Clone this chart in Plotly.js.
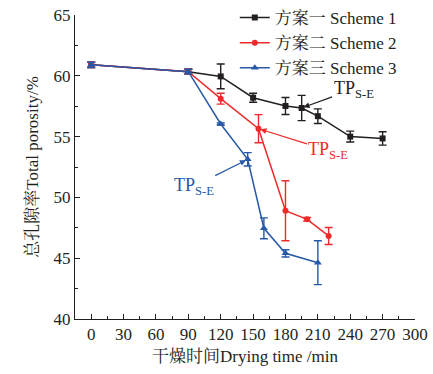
<!DOCTYPE html>
<html>
<head>
<meta charset="utf-8">
<script src="https://cdn.plot.ly/plotly-3.0.1.min.js"></script>
<style>html,body{margin:0;padding:0;background:#fff;}#chart{width:433px;height:374px;}</style>
</head>
<body>
<div id="chart"></div>
<script>
// Scheme 1 (black squares)
const s1x = [0, 90, 120, 150, 180, 195, 210, 240, 270];
const s1y = [60.9, 60.34, 59.95, 58.2, 57.52, 57.35, 56.68, 55.0, 54.85];
const s1e = [0.22, 0.2, 1.02, 0.37, 0.7, 1.04, 0.6, 0.45, 0.55];
// Scheme 2 (red circles)
const s2x = [0, 90, 120, 155, 180, 200, 220];
const s2y = [60.9, 60.34, 58.12, 55.65, 48.9, 48.2, 46.83];
const s2e = [0.22, 0.2, 0.45, 1.16, 2.47, 0.15, 0.7];
// Scheme 3 (blue triangles)
const s3x = [0, 90, 120, 145, 160, 180, 210];
const s3y = [60.9, 60.34, 56.04, 53.13, 47.46, 45.4, 44.63];
const s3e = [0.22, 0.2, 0.08, 0.55, 0.86, 0.3, 1.8];
const names = ["方案一 Scheme 1", "方案二 Scheme 2", "方案三 Scheme 3"];
const xTicks = [0, 30, 60, 90, 120, 150, 180, 210, 240, 270, 300];
const yTicks = [40, 45, 50, 55, 60, 65];
const tpLabel = "TP<sub>S-E</sub>";

const serif = "Liberation Serif, Noto Serif CJK SC, Noto Sans CJK SC, serif";
const cBlack = "#231f20", cRed = "#ee2b2b", cBlue = "#2759a8";

function tr(x, y, e, name, color, symbol, size) {
  return {
    x: x, y: y, name: name, type: "scatter", mode: "lines+markers",
    line: {color: color, width: 1.5},
    marker: {color: color, symbol: symbol, size: size},
    error_y: {type: "data", array: e, visible: true, color: color, thickness: 1.4, width: 4}
  };
}
const data = [
  tr(s1x, s1y, s1e, names[0], cBlack, "square", 6),
  tr(s2x, s2y, s2e, names[1], cRed, "circle", 6),
  tr(s3x, s3y, s3e, names[2], cBlue, "triangle-up", 7)
];

function ann(x, y, color, ax, ay) {
  return {x: x, y: y, xref: "x", yref: "y", text: tpLabel, showarrow: true,
    arrowhead: 2, arrowsize: 1, arrowwidth: 1.2, arrowcolor: color,
    ax: ax, ay: ay, standoff: 2, font: {family: serif, size: 18, color: color}};
}

const H = 374, T = 15, B = 55;
const layout = {
  width: 433, height: H,
  margin: {l: 75, r: 18, t: 0, b: B},
  paper_bgcolor: "#fff", plot_bgcolor: "#fff",
  font: {family: serif, size: 17, color: "#231f20"},
  showlegend: true,
  legend: {x: 0.47, xanchor: "left", y: 1.0, yanchor: "top",
    bgcolor: "rgba(0,0,0,0)", itemwidth: 30,
    font: {family: serif, size: 17, color: "#231f20"}, tracegroupgap: 0},
  xaxis: {
    range: [-15, 300], tickvals: xTicks,
    ticks: "inside", ticklen: 5, tickwidth: 1, tickcolor: "#231f20",
    minor: {dtick: 15, ticks: "inside", ticklen: 3, tickcolor: "#231f20"},
    showline: true, linecolor: "#231f20", linewidth: 1, showgrid: false, zeroline: false,
    title: {text: "干燥时间Drying time /min", font: {family: serif, size: 17}, standoff: 6},
    tickfont: {family: serif, size: 17}
  },
  yaxis: {
    range: [40, 65], tickvals: yTicks,
    domain: [0, (H - B - T) / (H - B)],
    ticks: "inside", ticklen: 5, tickwidth: 1, tickcolor: "#231f20",
    minor: {dtick: 2.5, ticks: "inside", ticklen: 3, tickcolor: "#231f20"},
    showline: true, linecolor: "#231f20", linewidth: 1, showgrid: false, zeroline: false,
    title: {text: "总孔隙率Total porosity/%", font: {family: serif, size: 17}, standoff: 10},
    tickfont: {family: serif, size: 17}
  },
  annotations: [
    ann(s1x[5], s1y[5], cBlack, 52, -19),
    ann(s2x[3], s2y[3], cRed, 70, 22),
    ann(s3x[3], s3y[3], cBlue, -54, 27)
  ]
};
Plotly.newPlot("chart", data, layout, {displayModeBar: false, staticPlot: true});
</script>
</body>
</html>
